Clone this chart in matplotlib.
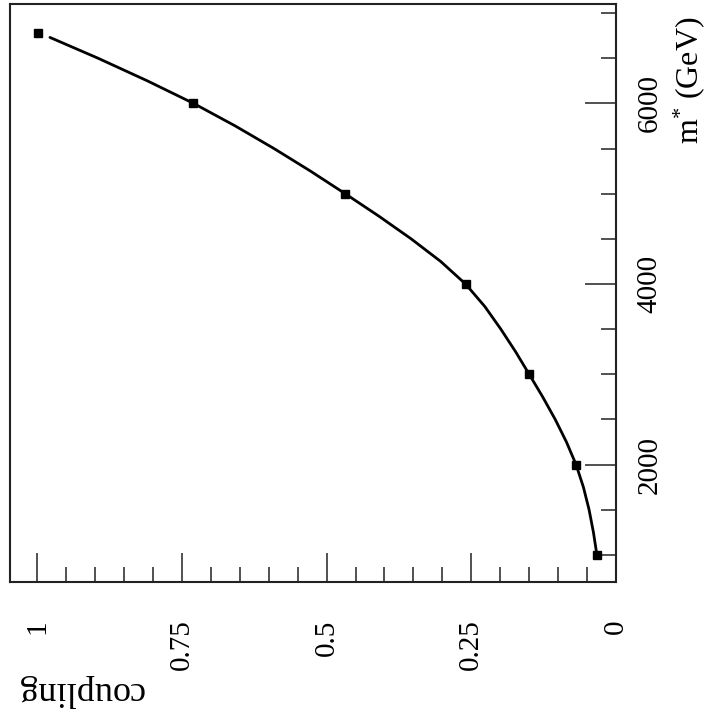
import matplotlib
matplotlib.use("Agg")
import matplotlib.pyplot as plt
from matplotlib.ticker import MultipleLocator, FixedLocator

plt.rcParams['font.family'] = ['Liberation Serif', 'DejaVu Serif']
plt.rcParams['mathtext.fontset'] = 'custom'
plt.rcParams['mathtext.rm'] = 'Liberation Serif'
plt.rcParams['mathtext.it'] = 'Liberation Serif'

# data points (mass in GeV, coupling)
mass_points = [1000, 2000, 3000, 4000, 5000, 6000, 6780]
coupling_points = [0.033, 0.069, 0.150, 0.260, 0.468, 0.730, 0.998]

# fitted curve
curve_mass = [1000, 1250, 1500, 1750, 2000, 2250, 2500, 2750, 3000, 3250, 3500, 3750,
              4000, 4250, 4500, 4750, 5000, 5250, 5500, 5750, 6000, 6250, 6500, 6730]
curve_coupling = [0.033, 0.039, 0.0465, 0.0563, 0.069, 0.0856, 0.105, 0.1267, 0.150, 0.1735,
                  0.199, 0.2266, 0.260, 0.3030, 0.354, 0.4095, 0.468, 0.5279, 0.591, 0.6579,
                  0.730, 0.810, 0.895, 0.978]

coupling_ticks = [0, 0.25, 0.5, 0.75, 1]
coupling_labels = ['0', '0.25', '0.5', '0.75', '1']
mass_ticks = [2000, 4000, 6000]
mass_labels = ['2000', '4000', '6000']

W, H = 710, 715
fig = plt.figure(figsize=(W / 100, H / 100), dpi=100)
left, right, top, bottom = 10, 616, 4, 582
ax = fig.add_axes([left / W, 1 - bottom / H, (right - left) / W, (bottom - top) / H])

ax.plot(curve_coupling, curve_mass, color='black', lw=2.0, solid_joinstyle='round',
        solid_capstyle='round')
ax.plot(coupling_points, mass_points, 's', color='black', markersize=5.5, linestyle='none')

ax.set_xlim(1.047, 0)
ax.set_ylim(700, 7100)

for s in ax.spines.values():
    s.set_linewidth(1.5)
    s.set_color('#222222')

ax.xaxis.set_major_locator(FixedLocator(coupling_ticks))
ax.set_xticklabels(coupling_labels)
ax.xaxis.set_minor_locator(MultipleLocator(0.05))
ax.yaxis.tick_right()
ax.yaxis.set_major_locator(FixedLocator(mass_ticks))
ax.set_yticklabels(mass_labels)
ax.yaxis.set_minor_locator(MultipleLocator(500))

ax.tick_params(axis='x', which='both', direction='in', bottom=True, top=False,
               width=1.1, color='#222222')
ax.tick_params(axis='x', which='major', length=21, pad=27, labelsize=21, labelrotation=90)
ax.tick_params(axis='x', which='minor', length=11)
ax.tick_params(axis='y', which='both', direction='in', right=True, left=False,
               labelright=True, labelleft=False, width=1.1, color='#222222')
ax.tick_params(axis='y', which='major', length=22, pad=15, labelsize=21, labelrotation=90)
ax.tick_params(axis='y', which='minor', length=11)

for lab in ax.get_xticklabels():
    lab.set_horizontalalignment('center')
    lab.set_verticalalignment('top')
for lab in ax.get_yticklabels():
    lab.set_verticalalignment('center')
    lab.set_horizontalalignment('left')

fig.text(80 / W, 1 - 690 / H, 'coupling', rotation=180, ha='center', va='center', fontsize=26)
fig.text(689 / W, 1 - 80 / H, r'm$^{*}$ (GeV)', rotation=90, ha='center', va='center', fontsize=23)

fig.savefig('out.png', dpi=100, facecolor='white')
